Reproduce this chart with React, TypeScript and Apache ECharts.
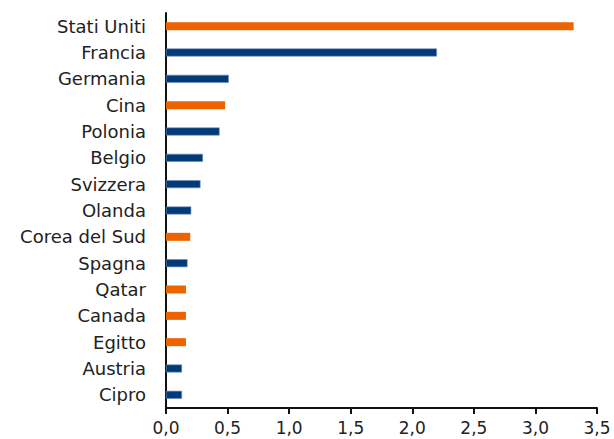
import React, { useEffect, useRef } from "react";
import * as echarts from "echarts";

const categories = [
  "Stati Uniti", "Francia", "Germania", "Cina", "Polonia", "Belgio", "Svizzera",
  "Olanda", "Corea del Sud", "Spagna", "Qatar", "Canada", "Egitto", "Austria", "Cipro",
];
const values = [3.31, 2.2, 0.51, 0.48, 0.435, 0.3, 0.28, 0.205, 0.197, 0.175, 0.162, 0.162, 0.162, 0.13, 0.13];
// "o" = orange, "b" = blue
const groups = ["o", "b", "b", "o", "b", "b", "b", "b", "o", "b", "o", "o", "o", "b", "b"];

const ORANGE = "#EC6300";
const BLUE = "#003A78";

export default function App() {
  const ref = useRef<HTMLDivElement>(null);
  useEffect(() => {
    const chart = echarts.init(ref.current!, null, { renderer: "svg" });
    const font = "'DejaVu Sans', sans-serif";
    chart.setOption({
      animation: false,
      grid: { left: 166, right: 17, top: 13, bottom: 31, containLabel: false },
      xAxis: {
        type: "value",
        min: 0,
        max: 3.5,
        interval: 0.5,
        axisLine: { show: true, lineStyle: { color: "#111", width: 2 } },
        axisTick: { show: true, length: 6, lineStyle: { color: "#111", width: 2 } },
        splitLine: { show: false },
        axisLabel: {
          color: "#222",
          fontFamily: font,
          fontSize: 17,
          margin: 11,
          formatter: (v: number) => v.toFixed(1).replace(".", ","),
        },
      },
      yAxis: {
        type: "category",
        data: categories,
        inverse: true,
        axisLine: { show: true, lineStyle: { color: "#111", width: 2 } },
        axisTick: { show: false },
        axisLabel: { color: "#222", fontFamily: font, fontSize: 18, margin: 20 },
      },
      series: [
        {
          type: "bar",
          barWidth: 8,
          data: values.map((v, i) => ({
            value: v,
            itemStyle: groups[i] === "o"
              ? { color: ORANGE }
              : { color: BLUE, borderColor: "#6E8FBA", borderWidth: 0.6 },
          })),
        },
      ],
    });
    return () => chart.dispose();
  }, []);
  return <div ref={ref} style={{ width: 614, height: 439, position: "absolute", left: 0, top: 0 }} />;
}
